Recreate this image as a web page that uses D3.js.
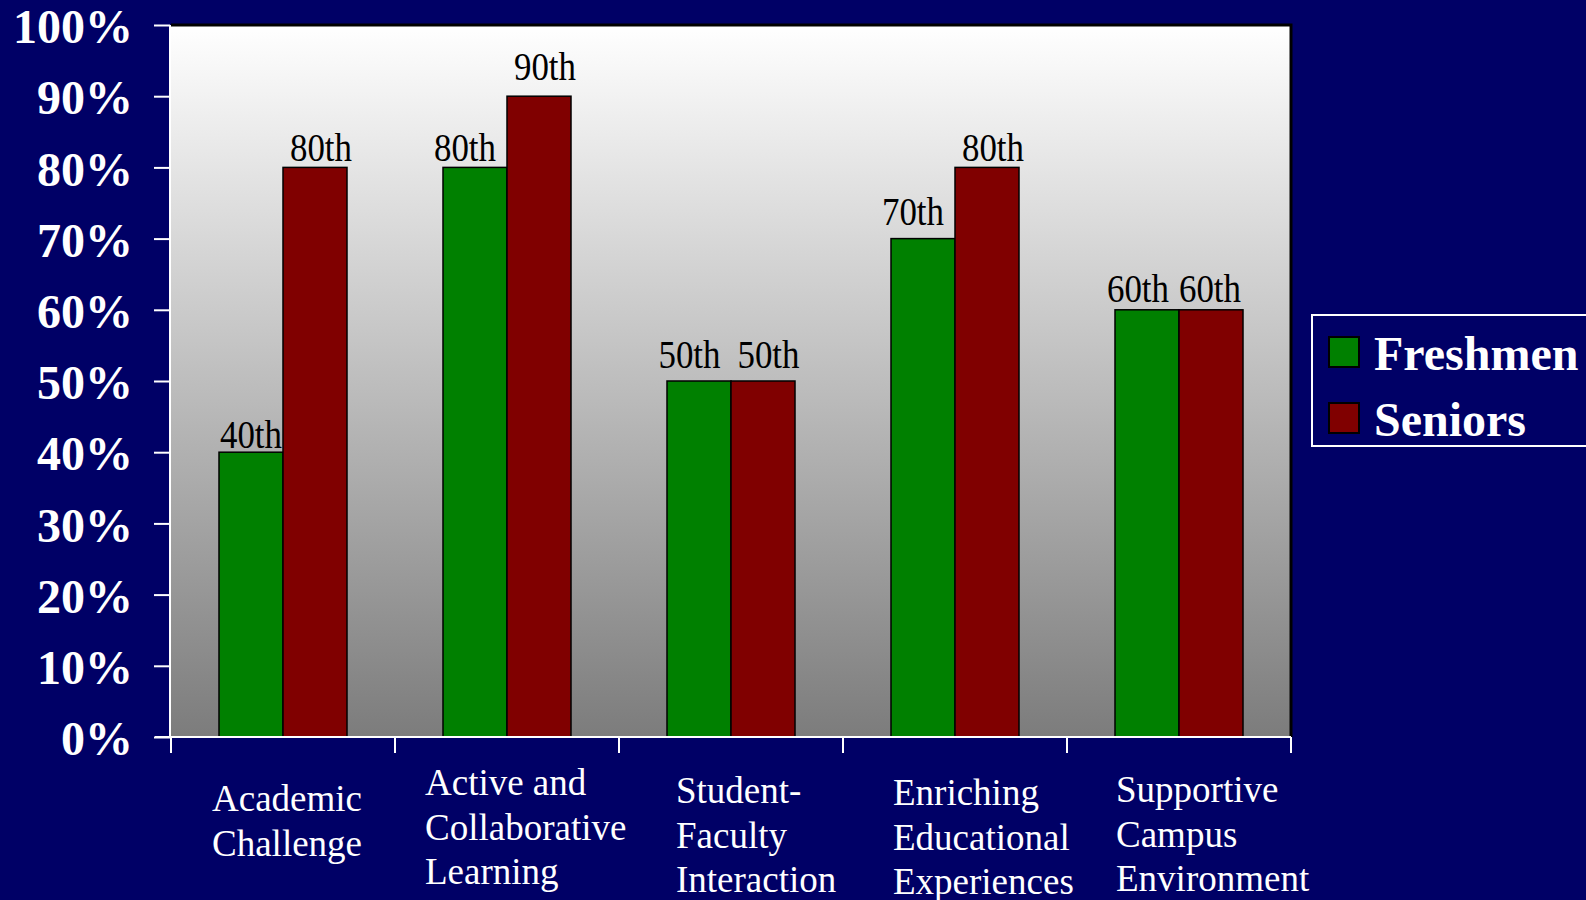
<!DOCTYPE html>
<html>
<head>
<meta charset="utf-8">
<script src="https://cdn.jsdelivr.net/npm/d3@7"></script>
<style>
html,body{margin:0;padding:0;background:#000066;overflow:hidden;}
svg{display:block;}
</style>
</head>
<body>
<svg id="chart" width="1586" height="900"></svg>
<script>
const categories = ["Academic Challenge","Active and Collaborative Learning","Student-Faculty Interaction","Enriching Educational Experiences","Supportive Campus Environment"];
const categoryLines = [["Academic","Challenge"],["Active and","Collaborative","Learning"],["Student-","Faculty","Interaction"],["Enriching","Educational","Experiences"],["Supportive","Campus","Environment"]];
const seriesNames = ["Freshmen","Seniors"];
const freshmen = [40,80,50,70,60];
const seniors = [80,90,50,80,60];
const freshmenLabels = ["40th","80th","50th","70th","60th"];
const seniorsLabels = ["80th","90th","50th","80th","60th"];
const yTicks = [0,10,20,30,40,50,60,70,80,90,100];
const yTickLabels = ["0%","10%","20%","30%","40%","50%","60%","70%","80%","90%","100%"];
const colors = {Freshmen:"#008000", Seniors:"#800000"};

// layout nudges (pixels) for labels, as placed in the original
const freshmenLabelNudge = [[0,4],[-10,6],[-9.5,13],[-10,14],[-9,8]];
const seniorsLabelNudge = [[6,6],[6,16.7],[5.5,13],[6,6],[-1,8]];
const catLabelLayout = [[41,811],[30,795],[57,803],[50,805],[49,802]];

const svg = d3.select("#chart");
const pLeft = 171, pRight = 1291, pTop = 25, pBottom = 737;
const serif = "'Liberation Serif','Times New Roman',serif";

const x = d3.scaleBand().domain(categories).range([pLeft, pRight]).padding(0);
const x1 = d3.scaleBand().domain(seriesNames).range([0, x.bandwidth()]).paddingInner(0).paddingOuter(0.75);
const y = d3.scaleLinear().domain([0,100]).range([pBottom, pTop]);

const defs = svg.append("defs");
const grad = defs.append("linearGradient").attr("id","bg").attr("x1",0).attr("y1",0).attr("x2",0).attr("y2",1);
grad.append("stop").attr("offset","0%").attr("stop-color","#ffffff");
grad.append("stop").attr("offset","100%").attr("stop-color","#7c7c7c");

svg.append("rect").attr("x",pLeft).attr("y",pTop).attr("width",pRight-pLeft).attr("height",pBottom-pTop).attr("fill","url(#bg)");
svg.append("path").attr("d",`M${pLeft},${pTop}H${pRight}V${pBottom}`).attr("fill","none").attr("stroke","#000").attr("stroke-width",3);

const data = categories.map((c,i)=>({cat:c, vals:[
  {s:"Freshmen", v:freshmen[i], label:freshmenLabels[i], nudge:freshmenLabelNudge[i]},
  {s:"Seniors", v:seniors[i], label:seniorsLabels[i], nudge:seniorsLabelNudge[i]}
]}));

const g = svg.append("g").selectAll("g").data(data).join("g").attr("transform",d=>`translate(${x(d.cat)},0)`);
g.selectAll("rect").data(d=>d.vals).join("rect")
  .attr("x",d=>x1(d.s)).attr("width",x1.bandwidth())
  .attr("y",d=>y(d.v)).attr("height",d=>y(0)-y(d.v))
  .attr("fill",d=>colors[d.s]).attr("stroke","#000").attr("stroke-width",1.5);
g.selectAll("text").data(d=>d.vals).join("text")
  .attr("x",d=>x1(d.s)+x1.bandwidth()/2+d.nudge[0]).attr("y",d=>y(d.v)-d.nudge[1])
  .attr("text-anchor","middle")
  .attr("font-family",serif)
  .attr("font-size",40).attr("fill","#000")
  .attr("textLength",62).attr("lengthAdjust","spacingAndGlyphs")
  .text(d=>d.label);

const yAxis = d3.axisLeft(y).tickValues(yTicks).tickSize(16).tickFormat((d,i)=>yTickLabels[i]);
const ya = svg.append("g").attr("transform",`translate(${pLeft-1},0)`).call(yAxis);
ya.select(".domain").attr("stroke","#fff").attr("stroke-width",2).attr("d",`M0,${pBottom}V${pTop}`);
ya.selectAll(".tick line").attr("stroke","#fff").attr("stroke-width",2);
ya.selectAll(".tick text").attr("fill","#fff")
  .attr("font-family",serif)
  .attr("font-weight","bold").attr("font-size",48)
  .attr("x",-37).attr("dy","0.37em");

const xa = svg.append("g").attr("transform",`translate(0,${pBottom})`);
const xTickPos = categories.map(c=>x(c)).concat([x(categories[categories.length-1])+x.step()]);
xa.append("line").attr("x1",pLeft-16).attr("x2",pRight).attr("y1",0).attr("y2",0).attr("stroke","#fff").attr("stroke-width",2);
xa.selectAll("line.t").data(xTickPos).join("line").attr("class","t")
  .attr("x1",d=>d).attr("x2",d=>d).attr("y1",0).attr("y2",16).attr("stroke","#fff").attr("stroke-width",2);

const labG = svg.append("g").selectAll("text").data(categories).join("text")
  .attr("font-family",serif)
  .attr("font-size",37).attr("fill","#fff")
  .attr("transform",(d,i)=>`translate(${x(d)+catLabelLayout[i][0]},${catLabelLayout[i][1]})`);
labG.selectAll("tspan").data((d,i)=>categoryLines[i]).join("tspan")
  .attr("x",0).attr("y",(d,j)=>j*44.5).text(d=>d);

const lg = svg.append("g").attr("transform","translate(1312,315)");
lg.append("rect").attr("x",0).attr("y",0).attr("width",300).attr("height",131).attr("fill","none").attr("stroke","#fff").attr("stroke-width",2);
const li = lg.selectAll("g").data(seriesNames).join("g").attr("transform",(d,i)=>`translate(0,${i*66})`);
li.append("rect").attr("x",17).attr("y",22).attr("width",30).attr("height",30).attr("fill",d=>colors[d]).attr("stroke","#000").attr("stroke-width",2);
li.append("text").attr("x",62).attr("y",55).attr("fill","#fff")
  .attr("font-family",serif)
  .attr("font-weight","bold").attr("font-size",48).text(d=>d);
</script>
</body>
</html>
